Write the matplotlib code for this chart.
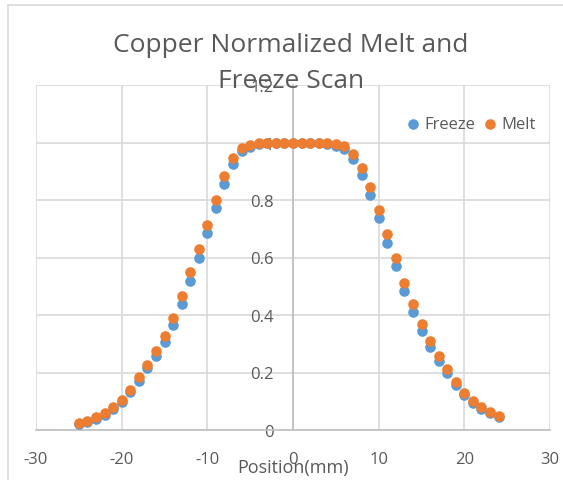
import matplotlib
matplotlib.use("Agg")
import matplotlib.pyplot as plt
from matplotlib.patches import Rectangle

# positions in mm
position = list(range(-25, 25))

freeze = [0.021, 0.029, 0.038, 0.052, 0.073, 0.098, 0.131, 0.171, 0.214, 0.258,
          0.307, 0.366, 0.438, 0.517, 0.600, 0.685, 0.772, 0.855, 0.925, 0.969,
          0.986, 0.994, 0.998, 1.0, 1.0, 1.0, 1.0, 1.0, 1.0, 0.996,
          0.988, 0.979, 0.944, 0.886, 0.817, 0.737, 0.652, 0.569, 0.484, 0.411,
          0.343, 0.287, 0.241, 0.198, 0.156, 0.122, 0.094, 0.073, 0.059, 0.044]

melt = [0.024, 0.032, 0.044, 0.058, 0.079, 0.104, 0.139, 0.183, 0.227, 0.276,
        0.328, 0.389, 0.467, 0.548, 0.629, 0.714, 0.801, 0.882, 0.946, 0.980,
        0.992, 0.999, 1.0, 1.0, 1.0, 1.0, 1.0, 1.0, 1.0, 1.0,
        0.994, 0.988, 0.959, 0.911, 0.846, 0.766, 0.681, 0.598, 0.513, 0.438,
        0.368, 0.311, 0.258, 0.212, 0.166, 0.129, 0.102, 0.079, 0.061, 0.048]

xticks = [-30, -20, -10, 0, 10, 20, 30]
yticks = [0, 0.2, 0.4, 0.6, 0.8, 1, 1.2]
ytick_labels = ["0", "0.2", "0.4", "0.6", "0.8", "1", "1.2"]
title_lines = ["Copper Normalized Melt and", "Freeze Scan"]

blue = "#5B9BD5"
orange = "#ED7D31"
text_gray = "#595959"
grid_gray = "#D9D9D9"

plt.rcParams['font.family'] = ['Open Sans', 'DejaVu Sans']
plt.rcParams['axes.unicode_minus'] = False

W, H = 563, 481
fig = plt.figure(figsize=(W / 100, H / 100), dpi=100)
fig.patch.set_facecolor("white")

# chart border like excel
fig.patches.append(Rectangle((8 / W, -0.1), 1.2, 1.1 - 6 / H, transform=fig.transFigure,
                             fill=False, edgecolor=grid_gray, linewidth=1.2, zorder=0))

ax = fig.add_axes([36 / W, 1 - 431 / H, (550 - 36) / W, (431 - 86) / H])
ax.set_xlim(-30, 30)
ax.set_ylim(0, 1.2)
ax.set_xticks(xticks)
ax.set_yticks(yticks)
ax.set_yticklabels(ytick_labels)
ax.grid(True, color=grid_gray, linewidth=1.2)
ax.set_axisbelow(True)

for s in ["top", "right"]:
    ax.spines[s].set_visible(False)
ax.spines["left"].set_position(("data", 0))
ax.spines["left"].set_color("#BFBFBF")
ax.spines["bottom"].set_color("#BFBFBF")
ax.spines["left"].set_linewidth(1.2)
ax.spines["bottom"].set_linewidth(1.2)

ax.tick_params(axis="both", length=0, labelsize=12, labelcolor=text_gray)
ax.tick_params(axis="y", pad=14)
ax.tick_params(axis="x", pad=15)

ax.scatter(position, freeze, s=58, color=blue, label="Freeze", zorder=3, linewidths=0)
ax.scatter(position, melt, s=58, color=orange, label="Melt", zorder=4, linewidths=0)

ax.set_xlabel("Position(mm)", fontsize=13, color=text_gray)
ax.xaxis.set_label_coords(0.5, -0.082)

fig.text(291 / W, 1 - 52 / H, title_lines[0], ha="center", va="baseline",
         fontsize=19, color=text_gray)
fig.text(291 / W, 1 - 88 / H, title_lines[1], ha="center", va="baseline",
         fontsize=19, color=text_gray)

ax.legend(loc="center right", bbox_to_anchor=(0.995, 0.887), ncol=2, frameon=False,
          fontsize=12, labelcolor=text_gray, handlelength=0.7, handletextpad=0.35,
          columnspacing=0.5, borderpad=0.2)

fig.savefig("out.png", dpi=100)
